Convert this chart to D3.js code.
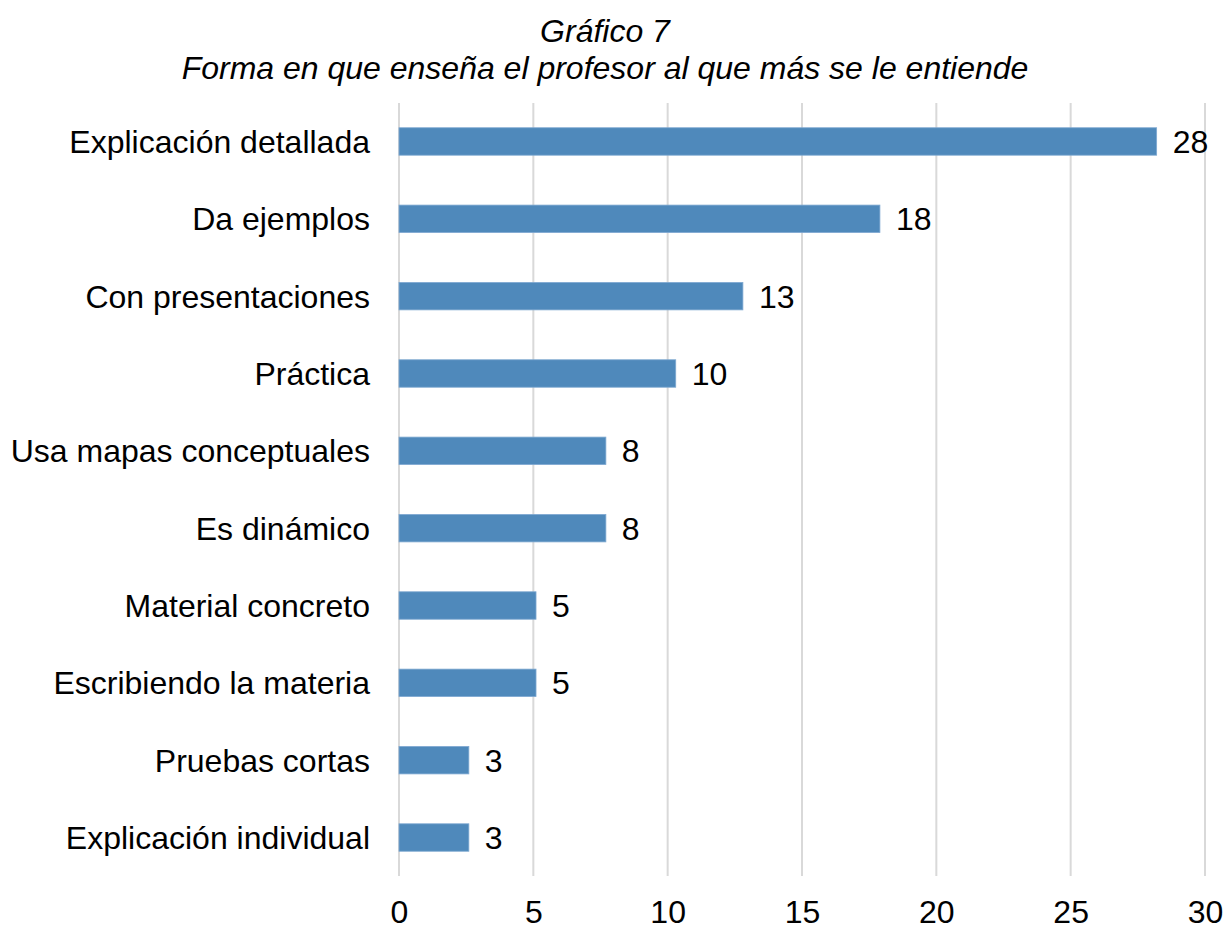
<!DOCTYPE html>
<html>
<head>
<meta charset="utf-8">
<script src="https://cdn.jsdelivr.net/npm/d3@7"></script>
<style>
  body { margin: 0; background: #fff; }
  text { font-family: "Liberation Sans", Arial, sans-serif; fill: #000; }
</style>
</head>
<body>
<div id="vis-svg"></div>
<script>
// chart data (percent of respondents, labels shown rounded)
var categories = ["Explicación detallada", "Da ejemplos", "Con presentaciones", "Práctica",
  "Usa mapas conceptuales", "Es dinámico", "Material concreto", "Escribiendo la materia",
  "Pruebas cortas", "Explicación individual"],
  values = [28.2, 17.9, 12.8, 10.3, 7.7, 7.7, 5.1, 5.1, 2.6, 2.6],
  valueLabels = ["28", "18", "13", "10", "8", "8", "5", "5", "3", "3"],
  xTicks = [0, 5, 10, 15, 20, 25, 30],
  titleLines = ["Gráfico 7", "Forma en que enseña el profesor al que más se le entiende"];

var W = 1226, H = 926,
  margin = {top: 103, right: 21, bottom: 50, left: 399},
  width = W - margin.left - margin.right,
  height = H - margin.top - margin.bottom,
  fontSize = "32px";

var svg = d3.select("#vis-svg").append("svg")
  .attr("width", W)
  .attr("height", H);

// title
svg.selectAll("text.title")
  .data(titleLines).enter()
  .append("text")
  .attr("class", "title")
  .attr("x", 605)
  .attr("y", function(d, i) { return 42 + i * 37; })
  .attr("text-anchor", "middle")
  .style("font-style", "italic")
  .style("font-size", fontSize)
  .text(function(d) { return d; });

var g = svg.append("g")
  .attr("transform", "translate(" + margin.left + "," + margin.top + ")");

var x = d3.scaleLinear().domain([0, 30]).range([0, width]);
var y = d3.scaleBand().domain(categories).range([0, height]).paddingInner(0.645).paddingOuter(0.32);

// gridlines
g.selectAll("line.grid")
  .data(xTicks).enter()
  .append("line")
  .attr("x1", function(d) { return x(d); })
  .attr("x2", function(d) { return x(d); })
  .attr("y1", 0)
  .attr("y2", height)
  .style("stroke", "#d9d9d9")
  .style("stroke-width", 2);

// bars
g.selectAll("rect.bar")
  .data(values).enter()
  .append("rect")
  .attr("x", x(0))
  .attr("y", function(d, i) { return y(categories[i]); })
  .attr("width", function(d) { return x(d) - x(0); })
  .attr("height", y.bandwidth())
  .style("fill", "#4f89bb")
  .style("stroke", "#7fa9d1")
  .style("stroke-width", 0.8);

// value labels
g.selectAll("text.val")
  .data(values).enter()
  .append("text")
  .attr("x", function(d) { return x(d) + 16; })
  .attr("y", function(d, i) { return y(categories[i]) + y.bandwidth() / 2; })
  .attr("dy", "0.36em")
  .style("font-size", fontSize)
  .text(function(d, i) { return valueLabels[i]; });

// category axis
var yAxis = g.append("g").call(d3.axisLeft(y).tickSize(0).tickPadding(29));
yAxis.select(".domain").remove();
yAxis.selectAll("text").style("font-size", fontSize).attr("dy", "0.36em");

// value axis
var xAxis = g.append("g")
  .attr("transform", "translate(0," + height + ")")
  .call(d3.axisBottom(x).tickValues(xTicks).tickSize(0).tickPadding(24));
xAxis.select(".domain").remove();
xAxis.selectAll("text").style("font-size", fontSize);
</script>
</body>
</html>
